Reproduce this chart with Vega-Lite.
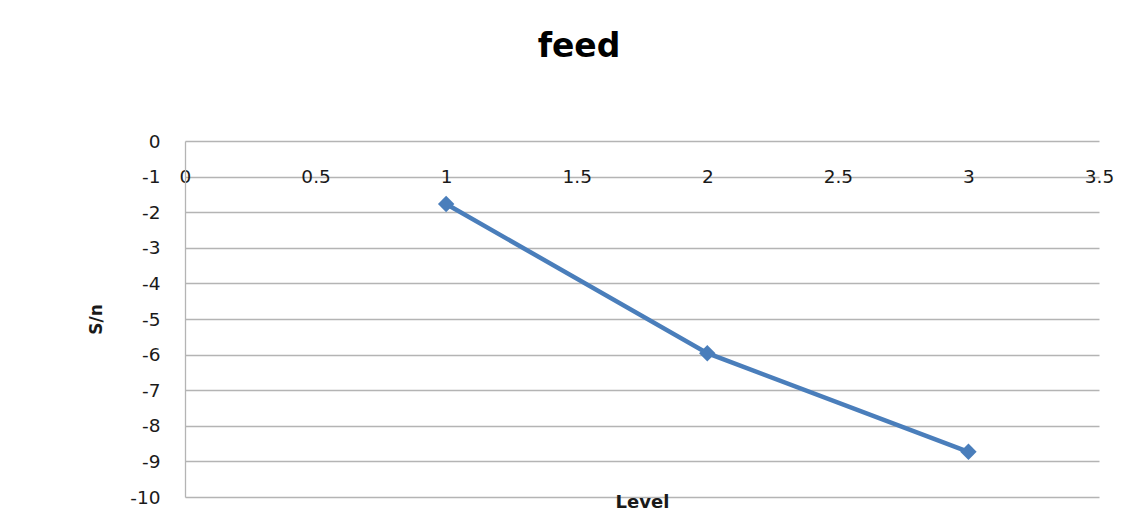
{
  "$schema": "https://vega.github.io/schema/vega-lite/v6.json",
  "width": 914,
  "height": 356,
  "autosize": "none",
  "padding": {"left": 185, "top": 141, "right": 43, "bottom": 17},
  "background": "white",
  "title": {
    "text": "feed",
    "font": "DejaVu Sans",
    "fontSize": 33,
    "fontWeight": "bold",
    "color": "#000000",
    "baseline": "alphabetic",
    "offset": 42,
    "dx": -63
  },
  "data": {
    "values": [
      {"Level": 1, "SN": -1.77},
      {"Level": 2, "SN": -5.96},
      {"Level": 3, "SN": -8.73}
    ]
  },
  "config": {
    "view": {"stroke": null},
    "axis": {
      "labelFont": "DejaVu Sans",
      "titleFont": "DejaVu Sans",
      "labelColor": "#1a1a1a",
      "titleColor": "#1a1a1a"
    }
  },
  "mark": {
    "type": "line",
    "color": "#4a7ebb",
    "strokeWidth": 4.5,
    "point": {"shape": "diamond", "size": 270, "filled": true, "color": "#4a7ebb", "opacity": 1}
  },
  "encoding": {
    "x": {
      "field": "Level",
      "type": "quantitative",
      "scale": {"domain": [0, 3.5], "nice": false, "zero": false},
      "axis": {
        "orient": "top",
        "offset": -35.6,
        "values": [0, 0.5, 1, 1.5, 2, 2.5, 3, 3.5],
        "labelExpr": "'' + datum.value",
        "grid": false,
        "domain": false,
        "ticks": false,
        "labelBaseline": "middle",
        "labelPadding": 0,
        "labelFontSize": 18.5,
        "labelFlush": false,
        "title": "Level",
        "titleFontSize": 18,
        "titleFontWeight": "bold",
        "titleBaseline": "alphabetic",
        "titleY": 331
      }
    },
    "y": {
      "field": "SN",
      "type": "quantitative",
      "scale": {"domain": [-10, 0], "nice": false, "zero": false},
      "axis": {
        "values": [0, -1, -2, -3, -4, -5, -6, -7, -8, -9, -10],
        "labelExpr": "'' + datum.value",
        "grid": true,
        "gridColor": "#b4b4b4",
        "gridWidth": 1.3,
        "domain": true,
        "domainColor": "#b4b4b4",
        "domainWidth": 1.3,
        "ticks": false,
        "labelPadding": 25,
        "labelFontSize": 18.5,
        "labelFlush": false,
        "title": "S/n",
        "titleFontSize": 17,
        "titleFontWeight": "bold",
        "titleBaseline": "middle",
        "titleX": -89,
        "titleY": 178,
        "titleAngle": -90
      }
    }
  }
}
